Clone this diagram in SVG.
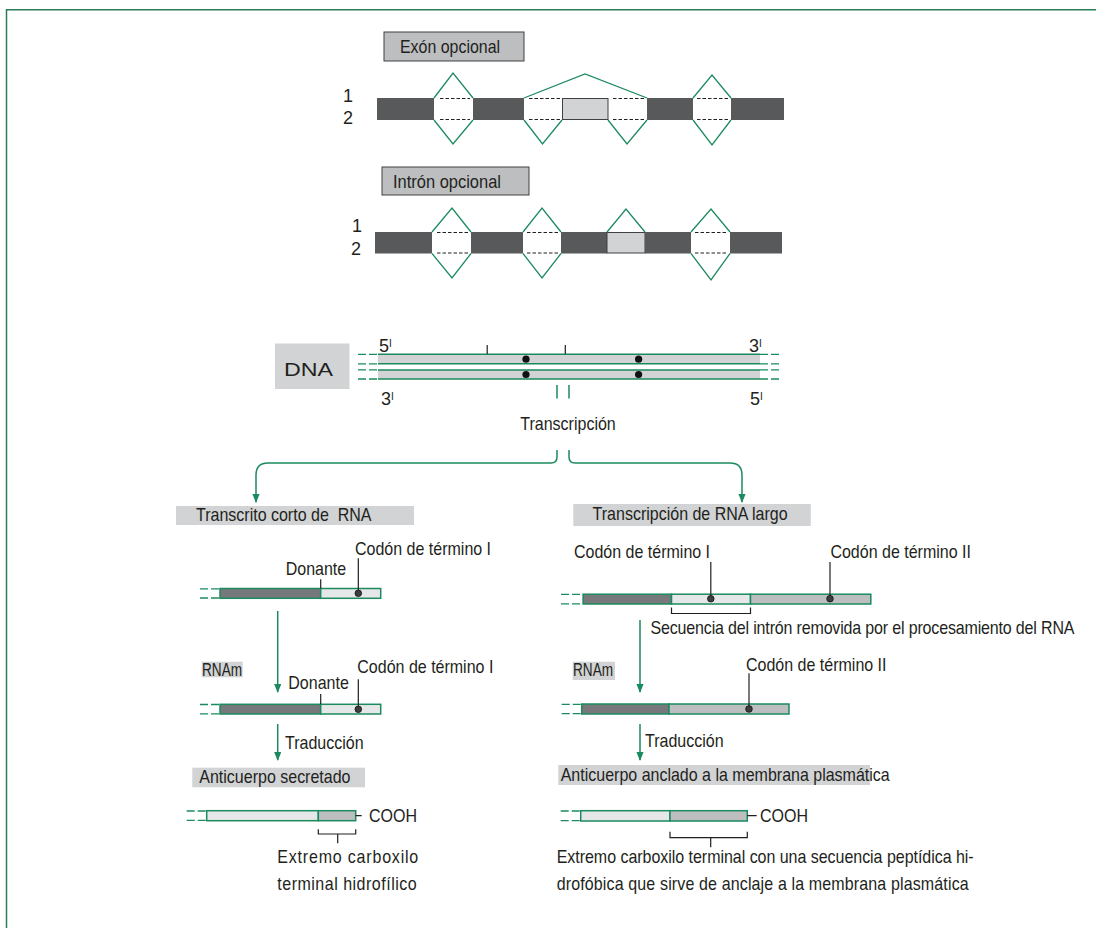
<svg xmlns="http://www.w3.org/2000/svg" width="1096" height="928" viewBox="0 0 1096 928">
  <defs>
    <style>
      .t { font-family: "Liberation Sans", Arial, sans-serif; font-size: 18px; fill: #231f20; }
      .gl { fill: none; stroke: #1b8a5e; stroke-width: 1.3; }
      .gs { fill: none; stroke: #1b8a5e; stroke-width: 1.5; }
      .gd { fill: none; stroke: #1b8a5e; stroke-width: 1.3; stroke-dasharray: 8 3; }
      .bd { fill: none; stroke: #231f20; stroke-width: 1; stroke-dasharray: 3.5 2; }
      .bk { fill: none; stroke: #231f20; stroke-width: 1.2; }
      .exon { fill: #58595b; }
      .optbox { fill: #d1d3d4; stroke: #404041; stroke-width: 1; }
      .hdr { fill: #bcbec0; stroke: #404041; stroke-width: 1; }
      .lab { fill: #d1d3d4; }
      .rdark { fill: #77787b; stroke: #1b8a5e; stroke-width: 1.5; }
      .rlight { fill: #e6e7e8; stroke: #1b8a5e; stroke-width: 1.5; }
      .rmid { fill: #bcbec0; stroke: #1b8a5e; stroke-width: 1.5; }
      .dot { fill: #3d3d3d; stroke: #111; stroke-width: 0.8; }
    </style>
    <marker id="arrow" viewBox="0 0 10 8" markerUnits="userSpaceOnUse" markerWidth="9" markerHeight="7.5" refX="9" refY="4" orient="auto">
      <path d="M0,0 L10,4 L0,8 z" fill="#1b8a5e"/>
    </marker>
  </defs>

  <rect width="1096" height="928" fill="#ffffff"/>
  <!-- frame -->
  <path d="M6.5,928 V9.7 H1096" fill="none" stroke="#2a7d57" stroke-width="1.5"/>

  <!-- optional exon splicing -->
  <g id="exon-opcional">
    <rect class="hdr" x="384" y="32" width="140" height="29"/>
    <text class="t" transform="translate(400 52.5) scale(.89 1)" textLength="112.4" lengthAdjust="spacingAndGlyphs">Exón opcional</text>
    <text class="t" x="343" y="102" font-size="17">1</text>
    <text class="t" x="343" y="124" font-size="17">2</text>
    <rect class="exon" x="377" y="98" width="57" height="22"/>
    <rect class="exon" x="473" y="98" width="51" height="22"/>
    <rect class="optbox" x="562.5" y="98.5" width="45.5" height="21"/>
    <rect class="exon" x="647" y="98" width="46" height="22"/>
    <rect class="exon" x="731" y="98" width="53" height="22"/>
    <path class="bd" d="M440,98.5 H470 M440,119.5 H470 M529,98.5 H560 M529,119.5 H560 M613,98.5 H645 M613,119.5 H645 M697,98.5 H728 M697,119.5 H728"/>
    <path class="gl" d="M434,98 L453,73 L473,98 M434,120 L453,144 L473,120 M524,98 L585,74 L647,98 M524,120 L542.5,144 L562,120 M608,120 L627,144 L647,120 M693,98 L712,75 L731,98 M693,120 L712,145 L731,120"/>
  </g>

  <!-- optional intron splicing -->
  <g id="intron-opcional">
    <rect class="hdr" x="382" y="167" width="147" height="28"/>
    <text class="t" transform="translate(393 187.5) scale(.89 1)" textLength="121.3" lengthAdjust="spacingAndGlyphs">Intrón opcional</text>
    <text class="t" x="352" y="231.5" font-size="17">1</text>
    <text class="t" x="351" y="254.5" font-size="17">2</text>
    <rect class="exon" x="375" y="232" width="57" height="21.5"/>
    <rect class="exon" x="471" y="232" width="52" height="21.5"/>
    <rect class="exon" x="561" y="232" width="46" height="21.5"/>
    <rect class="optbox" x="607" y="232.5" width="38" height="20.5"/>
    <rect class="exon" x="645" y="232" width="46" height="21.5"/>
    <rect class="exon" x="730" y="232" width="52" height="21.5"/>
    <path class="bd" d="M437,232.5 H468 M437,253 H468 M527,232.5 H558 M527,253 H558 M695,232.5 H727 M695,253 H727"/>
    <path class="gl" d="M432,232 L452,208 L471,232 M432,253.5 L452,278 L471,253.5 M523,232 L542,208 L561,232 M523,253.5 L542,278 L561,253.5 M607,232 L626,209 L645,232 M691,232 L711,209 L730,232 M691,253.5 L711,280 L730,253.5"/>
  </g>

  <!-- DNA double strand -->
  <g id="dna">
    <rect x="275" y="343.5" width="74.5" height="45.5" fill="#d1d3d4"/>
    <text class="t" x="284" y="376" font-size="28" textLength="49" lengthAdjust="spacingAndGlyphs">DNA</text>
    <rect x="378" y="354.3" width="382" height="9.5" fill="#d1d3d4"/>
    <rect x="378" y="369.9" width="382" height="9.1" fill="#d1d3d4"/>
    <path class="gs" d="M378,354.3 H760 M378,363.8 H760 M378,369.9 H760 M378,379 H760"/>
    <path class="gd" stroke-dasharray="9 2.5" d="M358,354.3 H378 M358,363.8 H378 M358,369.9 H378 M358,379 H378 M760,354.3 H781 M760,363.8 H781 M760,369.9 H781 M760,379 H781"/>
    <path class="bk" d="M487.2,345 V354 M565.3,345 V354"/>
    <circle cx="526" cy="359.2" r="3.6" fill="#111"/>
    <circle cx="638.6" cy="359.2" r="3.6" fill="#111"/>
    <circle cx="526" cy="374.5" r="3.6" fill="#111"/>
    <circle cx="638.6" cy="374.5" r="3.6" fill="#111"/>
    <path class="gs" d="M557,385 V398.6 M569,385 V398.6"/>
    <text class="t" x="379" y="352" font-size="15">5<tspan font-size="10" dy="-5">I</tspan></text>
    <text class="t" x="749" y="352" font-size="15">3<tspan font-size="10" dy="-5">I</tspan></text>
    <text class="t" x="381" y="404.5" font-size="15">3<tspan font-size="10" dy="-5">I</tspan></text>
    <text class="t" x="750" y="404.5" font-size="15">5<tspan font-size="10" dy="-5">I</tspan></text>
    <text class="t" transform="translate(520.3 429.7) scale(.89 1)">Transcripción</text>
  </g>

  <!-- connectors -->
  <g id="connectors">
    <path class="gs" marker-end="url(#arrow)" d="M557,450 V457 Q557,463 551,463 H268 Q256,463 256,475 V502"/>
    <path class="gs" marker-end="url(#arrow)" d="M569,450 V457 Q569,463 575,463 H730 Q742,463 742,475 V502"/>
    <path class="gs" marker-end="url(#arrow)" d="M277.7,611 V692"/>
    <path class="gs" marker-end="url(#arrow)" d="M277.7,724 V760"/>
    <path class="gs" marker-end="url(#arrow)" d="M640,620 V692"/>
    <path class="gs" marker-end="url(#arrow)" d="M640,724 V760"/>
  </g>

  <!-- short transcript branch -->
  <g id="transcrito-corto">
    <rect class="lab" x="176" y="506" width="238" height="19"/>
    <text class="t" transform="translate(196 520.5) scale(.89 1)" xml:space="preserve">Transcrito corto de  RNA</text>
    <text class="t" transform="translate(355 555) scale(.89 1)">Codón de término I</text>
    <text class="t" transform="translate(285.7 575) scale(.89 1)">Donante</text>
    <path class="gd" d="M200,588.8 H220 M200,598 H220"/>
    <rect class="rdark" x="220" y="588.5" width="100.7" height="9.8"/>
    <rect class="rlight" x="320.7" y="588.5" width="60" height="9.8"/>
    <path class="bk" d="M320.7,579.3 V588.5 M358.3,558.3 V593.3"/>
    <circle class="dot" cx="358.3" cy="593.3" r="3.3"/>
  </g>

  <g id="rnam-corto">
    <rect class="lab" x="201.7" y="661.7" width="41" height="15.6"/>
    <text class="t" transform="translate(202 675.5) scale(.89 1)" textLength="45" lengthAdjust="spacingAndGlyphs">RNAm</text>
    <text class="t" transform="translate(357.3 673.3) scale(.89 1)">Codón de término I</text>
    <text class="t" transform="translate(288.3 689.3) scale(.89 1)">Donante</text>
    <path class="gd" d="M200,704.5 H220 M200,713.8 H220"/>
    <rect class="rdark" x="220" y="704.3" width="100.7" height="9.7"/>
    <rect class="rlight" x="320.7" y="704.3" width="60" height="9.7"/>
    <path class="bk" d="M320.7,694 V704.3 M358.3,679.3 V709.3"/>
    <circle class="dot" cx="358.3" cy="709.3" r="3.3"/>
    <text class="t" transform="translate(285 749.3) scale(.89 1)">Traducción</text>
  </g>

  <g id="anticuerpo-secretado">
    <rect class="lab" x="192.3" y="767.7" width="172.7" height="19.6"/>
    <text class="t" transform="translate(199.3 783.3) scale(.89 1)">Anticuerpo secretado</text>
    <path class="gd" d="M186.7,811 H206.7 M186.7,820.4 H206.7"/>
    <rect class="rlight" x="206.7" y="810.7" width="111.6" height="10"/>
    <rect class="rmid" x="318.3" y="810.7" width="37.4" height="10"/>
    <path class="bk" d="M355.7,815.7 H361.7 M318.3,829.3 V834 H355.7 V829.3 M337.7,834 V843.3"/>
    <text class="t" transform="translate(369 821.7) scale(.89 1)">COOH</text>
    <text class="t" transform="translate(277.3 863.3) scale(.89 1)" textLength="158.4" lengthAdjust="spacing">Extremo carboxilo</text>
    <text class="t" transform="translate(277.3 890) scale(.89 1)" textLength="156.6" lengthAdjust="spacing">terminal hidrofílico</text>
  </g>

  <!-- long transcript branch -->
  <g id="transcrito-largo">
    <rect class="lab" x="573.3" y="504" width="237.5" height="22"/>
    <text class="t" transform="translate(592.6 520) scale(.89 1)">Transcripción de RNA largo</text>
    <text class="t" transform="translate(574 558.4) scale(.89 1)">Codón de término I</text>
    <text class="t" transform="translate(830.4 558.4) scale(.89 1)">Codón de término II</text>
    <path class="gd" d="M561,594.4 H583 M561,603.8 H583"/>
    <rect class="rdark" x="583.1" y="594.2" width="88.4" height="9.8"/>
    <rect class="rlight" x="671.5" y="594.2" width="79" height="9.8"/>
    <rect class="rmid" x="750.5" y="594.2" width="120.3" height="9.8"/>
    <path class="bk" d="M710.8,562 V598.7 M830,562 V598.7 M671.5,607.5 V613.5 H750.5 V607.5"/>
    <circle class="dot" cx="710.8" cy="598.7" r="3.3"/>
    <circle class="dot" cx="830" cy="598.7" r="3.3"/>
    <text class="t" transform="translate(650.5 633.8) scale(.89 1)" textLength="476.4" lengthAdjust="spacing">Secuencia del intrón removida por el procesamiento del RNA</text>
  </g>

  <g id="rnam-largo">
    <rect class="lab" x="572.7" y="661.7" width="42.3" height="18.3"/>
    <text class="t" transform="translate(573 676) scale(.89 1)" textLength="45" lengthAdjust="spacingAndGlyphs">RNAm</text>
    <text class="t" transform="translate(746 670.7) scale(.89 1)">Codón de término II</text>
    <path class="gd" d="M561.7,704.3 H581.7 M561.7,713.7 H581.7"/>
    <rect class="rdark" x="581.7" y="704" width="87.3" height="10"/>
    <rect class="rmid" x="669" y="704" width="120" height="10"/>
    <path class="bk" d="M749,673.3 V709"/>
    <circle class="dot" cx="749" cy="709" r="3.3"/>
    <text class="t" transform="translate(645 747.3) scale(.89 1)">Traducción</text>
  </g>

  <g id="anticuerpo-anclado">
    <rect class="lab" x="558.3" y="765" width="311.7" height="20"/>
    <text class="t" transform="translate(560.7 780.7) scale(.89 1)">Anticuerpo anclado a la membrana plasmática</text>
    <path class="gd" d="M560.7,811 H580.7 M560.7,820.7 H580.7"/>
    <rect class="rlight" x="580.7" y="810.7" width="89.3" height="10.3"/>
    <rect class="rmid" x="670" y="810.7" width="77.3" height="10.3"/>
    <path class="bk" d="M747.3,815.7 H756.7 M670,831.7 V837.7 H747.3 V831.7 M710.7,837.7 V847.3"/>
    <text class="t" transform="translate(760 821.7) scale(.89 1)">COOH</text>
    <text class="t" transform="translate(556.7 863.3) scale(.89 1)" textLength="468.5" lengthAdjust="spacing">Extremo carboxilo terminal con una secuencia peptídica hi-</text>
    <text class="t" transform="translate(556.7 890) scale(.89 1)" textLength="462.9" lengthAdjust="spacing">drofóbica que sirve de anclaje a la membrana plasmática</text>
  </g>
</svg>
